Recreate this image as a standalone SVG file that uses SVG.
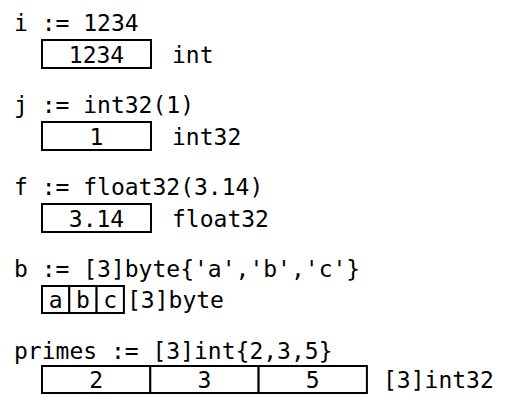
<svg xmlns="http://www.w3.org/2000/svg" width="506" height="405" viewBox="0 0 506 405">
<style>
text{font-family:"DejaVu Sans Mono","Liberation Mono",monospace;font-size:23px;fill:#000}
.c{text-anchor:middle}
rect{fill:#fff;stroke:#000;stroke-width:2}
</style>
<rect x="0" y="0" width="506" height="405" style="stroke:none"/>
<g id="i">
<text x="14" y="31">i := 1234</text>
<rect x="42" y="40" width="109" height="28"/>
<text class="c" x="96.5" y="63">1234</text>
<text x="172" y="63">int</text>
</g>
<g id="j">
<text x="14" y="113">j := int32(1)</text>
<rect x="42" y="122" width="109" height="28"/>
<text class="c" x="96.5" y="145">1</text>
<text x="172" y="145">int32</text>
</g>
<g id="f">
<text x="14" y="195">f := float32(3.14)</text>
<rect x="42" y="204" width="109" height="28"/>
<text class="c" x="96.5" y="227">3.14</text>
<text x="172" y="227">float32</text>
</g>
<g id="b">
<text x="14" y="277">b := [3]byte{'a','b','c'}</text>
<rect x="42" y="286" width="27.3" height="27"/>
<rect x="69.3" y="286" width="27.3" height="27"/>
<rect x="96.6" y="286" width="27.3" height="27"/>
<text class="c" x="55.7" y="308">a</text>
<text class="c" x="83" y="308">b</text>
<text class="c" x="110.3" y="308">c</text>
<text x="127" y="308">[3]byte</text>
</g>
<g id="primes">
<text x="14" y="359">primes := [3]int{2,3,5}</text>
<rect x="42" y="366" width="108.3" height="27"/>
<rect x="150.3" y="366" width="108.3" height="27"/>
<rect x="258.6" y="366" width="108.3" height="27"/>
<text class="c" x="96.2" y="388">2</text>
<text class="c" x="204.5" y="388">3</text>
<text class="c" x="312.8" y="388">5</text>
<text x="383" y="388">[3]int32</text>
</g>
<g id="connectors"/>
</svg>
